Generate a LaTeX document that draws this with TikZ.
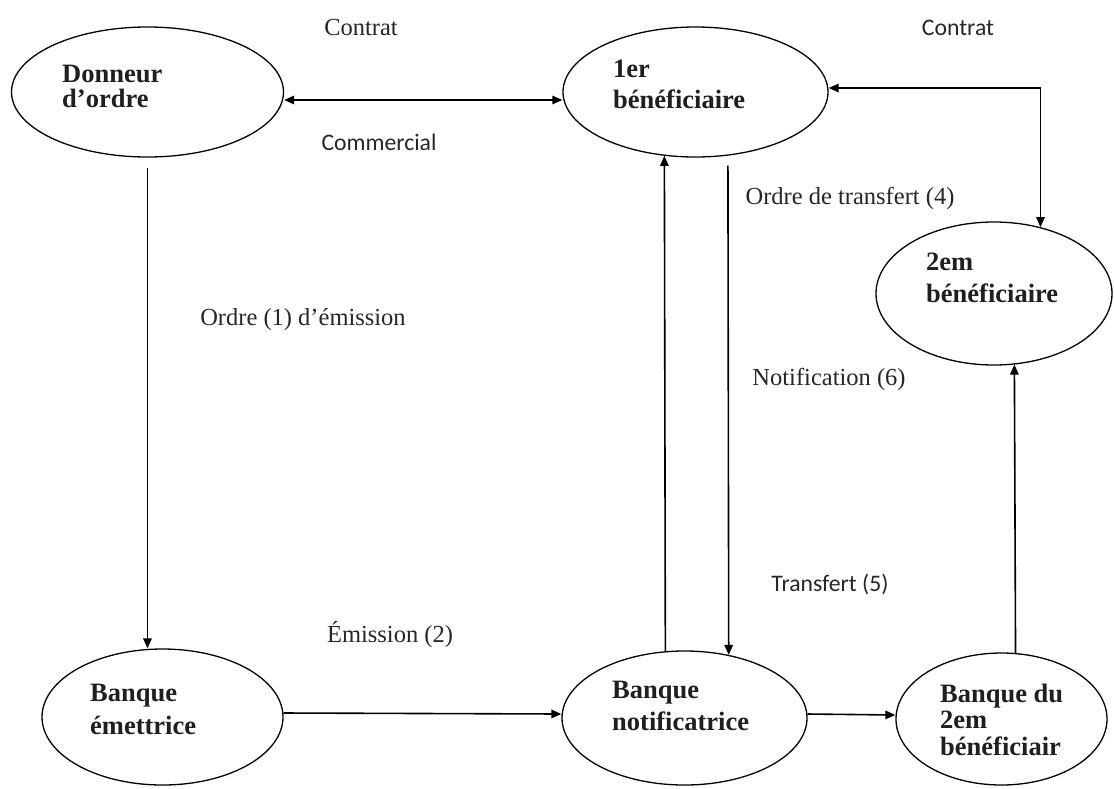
\documentclass[tikz,border=0pt]{standalone}
\usepackage{fontspec}
\setmainfont{Liberation Serif}
\newfontfamily\calibfont{Carlito}
\usetikzlibrary{shapes.geometric,arrows.meta}
\begin{document}
\begin{tikzpicture}[x=1pt,y=-1pt,
  >={Triangle[length=10pt,width=8.5pt]},
  ell/.style={draw, ellipse, line width=1.3pt, inner sep=0pt},
  ntext/.style={font=\bfseries\fontsize{26.5}{31}\selectfont, align=left, inner sep=0pt, anchor=base west, text=black!88},
  lser/.style={font=\fontsize{24.5}{29}\selectfont, inner sep=0pt, anchor=base, text=black!85},
  lsans/.style={font=\calibfont\fontsize{23.7}{28}\selectfont, inner sep=0pt, anchor=base, text=black!85},
  conn/.style={line width=1.6pt}]
\useasboundingbox (0,0) rectangle (1114,788);
% ellipses
\node[ell, minimum width=272pt, minimum height=130pt] (D)  at (147.5,92) {};
\node[ell, minimum width=265pt, minimum height=130pt] (B1) at (695.5,92) {};
\node[ell, minimum width=236pt, minimum height=143pt] (B2) at (994,293.5) {};
\node[ell, minimum width=241pt, minimum height=136pt] (BE) at (162.5,717) {};
\node[ell, minimum width=245pt, minimum height=134pt] (BN) at (684.5,718) {};
\node[ell, minimum width=211pt, minimum height=132pt] (BB) at (1001.5,719) {};
% node texts (anchored at the baseline of the last line)
\node[ntext] (tD)  at (62,107.5) {Donneur\\[-6pt]d’ordre};
\node[ntext] (tB1) at (613,108)  {1er\\b\'en\'eficiaire};
\node[ntext] (tB2) at (926,302)  {2em\\[1pt]b\'en\'eficiaire};
\node[ntext] (tBE) at (90,734)   {Banque\\[2pt]\'emettrice};
\node[ntext] (tBN) at (612,730)  {Banque\\[1pt]notificatrice};
\node[ntext] (tBB) at (940,755)  {Banque du\\[-4.5pt]2em\\[-4.5pt]b\'en\'eficiair};
% labels
\node[lser]  (l1) at (361,35)  {Contrat};
\node[lsans] (l2) at (379,150) {Commercial};
\node[lsans] (l3) at (958,35)  {Contrat};
\node[lser]  (l4) at (303,325) {Ordre (1) d’émission};
\node[lser]  (l5) at (850,204) {Ordre de transfert (4)};
\node[lser]  (l6) at (829,385) {Notification (6)};
\node[lsans] (l7) at (830,591) {Transfert (5)};
\node[lser]  (l8) at (390,642) {Émission (2)};
% connectors
\draw[conn,<->] ([yshift=-8pt]D.east) -- ([yshift=-8pt]B1.west);
\draw[conn,<->] ([yshift=4pt]B1.east) -| (B2.55);
\draw[conn,->] ([yshift=-10pt]D.south) -- (D.south |- BE.north);
\draw[conn,->] (BN.106.42) -- (B1.244.26);
\draw[conn,->] ([yshift=-10pt]B1.297.3) -- (BN.55.2);
\draw[conn,->] ([yshift=4pt]BE.east) -- ([yshift=4pt]BN.west);
\draw[conn,->] ([yshift=4pt]BN.east) -- ([yshift=4pt]BB.west);
\draw[conn,->] (BB.78.35) -- (B2.286.62);
\end{tikzpicture}
\end{document}
